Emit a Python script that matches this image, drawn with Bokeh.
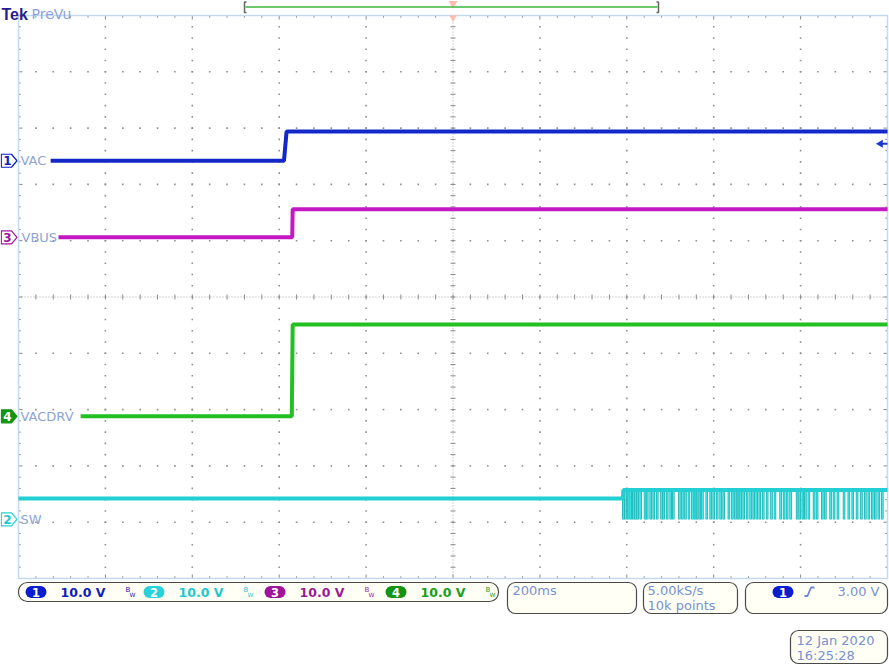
import numpy as np
from bokeh.plotting import figure
from bokeh.models import Range1d, Label, BoxAnnotation
from bokeh.embed import file_html
from bokeh.resources import INLINE

# ---------------- data ----------------
TIME_PER_DIV_MS = 200.0          # 200ms / div
VOLTS_PER_DIV = 10.0             # 10.0 V / div on every channel
H_DIVS, V_DIVS = 10, 10

channel_numbers = [1, 2, 3, 4]
channel_names = ["VAC", "SW", "VBUS", "VACDRV"]
channel_offsets_div = [2.42, -3.95, 1.06, -2.12]
channel_scale_text = ["10.0 V", "10.0 V", "10.0 V", "10.0 V"]

vac_t_ms = [-926, -389, -383, 1000]
vac_v = [0.0, 0.0, 5.2, 5.2]

vbus_t_ms = [-908, -370, -369, 1000]
vbus_v = [0.0, 0.0, 5.0, 5.0]

vacdrv_t_ms = [-857, -371, -369, 1000]
vacdrv_v = [0.0, 0.0, 16.3, 16.3]

sw_t_ms = [-1000, 391, 392, 1000]
sw_v = [3.7, 3.7, 5.2, 5.2]
sw_spike_t_ms = [392, 397, 403, 409, 415, 420, 425, 432, 442, 447, 455, 462, 470, 480,
                 485, 493, 501, 507, 521, 528, 535, 543, 551, 557, 562, 568, 574, 584,
                 593, 600, 608, 616, 623, 635, 643, 650, 656, 662, 669, 677, 685, 692,
                 699, 706, 714, 723, 733, 741, 754, 762, 769, 777, 792, 798, 805, 811,
                 819, 831, 838, 850, 857, 869, 877, 886, 900, 911, 920, 930, 940, 949,
                 957, 965, 972, 980, 988]
sw_spike_high_v = 5.2
sw_spike_low_v = 0.0

trigger_level_v = 3.0
sample_rate_text = "5.00kS/s"
record_text = "10k points"
timebase_text = "200ms"
trigger_text = "3.00 V"
date_text = "12 Jan  2020"
time_text = "16:25:28"

# ---------------- layout (picture pixels) ----------------
W, H = 889, 667
GX0, GX1, GY0, GY1 = 18, 887, 15, 578
MS_PER_PX = H_DIVS * TIME_PER_DIV_MS / (GX1 - GX0)
DIV_PER_PX = V_DIVS / (GY1 - GY0)
T_HALF = H_DIVS / 2 * TIME_PER_DIV_MS
x_start = -T_HALF - GX0 * MS_PER_PX
x_end = x_start + W * MS_PER_PX
y_end = V_DIVS / 2 + GY0 * DIV_PER_PX
y_start = y_end - H * DIV_PER_PX


def X(px):
    return x_start + px * MS_PER_PX


def Y(py):
    return y_end - py * DIV_PER_PX


CH_COL = {1: "#1428c8", 2: "#22cfd2", 3: "#c418c4", 4: "#22c022"}
TXT_COL = {1: "#1020b8", 2: "#1ec8d0", 3: "#9a1a9a", 4: "#18a018"}
PILL_COL = {1: "#0a1ed0", 2: "#28d2d8", 3: "#a0149c", 4: "#149414"}
LBL_COL = "#8ea4d4"
BOX_TXT = "#7891d0"
FONT = "DejaVu Sans"

p = figure(width=W, height=H, x_range=Range1d(x_start, x_end), y_range=Range1d(y_start, y_end),
           x_axis_type=None, y_axis_type=None, toolbar_location=None, output_backend="svg",
           min_border=0, outline_line_color=None, background_fill_color="white",
           border_fill_color="white")

# ---------------- graticule ----------------
dot_x, dot_y = [], []
for k in range(1, H_DIVS):
    if k == H_DIVS // 2:
        continue
    gx = -T_HALF + k * TIME_PER_DIV_MS
    for m in range(1, V_DIVS * 5):
        dot_x.append(gx)
        dot_y.append(-V_DIVS / 2 + m * 0.2)
for j in range(1, V_DIVS):
    if j == V_DIVS // 2:
        continue
    gy = -V_DIVS / 2 + j
    for m in range(1, H_DIVS * 5):
        dot_x.append(-T_HALF + m * TIME_PER_DIV_MS / 5)
        dot_y.append(gy)
p.scatter(dot_x, dot_y, marker="square", size=1.6, fill_color="#909090", line_color=None)

# centre cross
p.line([-T_HALF, T_HALF], [0, 0], line_color="#a8a8a8", line_width=1, line_dash="1 2")
p.line([0, 0], [-V_DIVS / 2, V_DIVS / 2], line_color="#a8a8a8", line_width=1, line_dash="1 2")
tx = [-T_HALF + m * TIME_PER_DIV_MS / 5 for m in range(1, H_DIVS * 5)]
ty = [-V_DIVS / 2 + m * 0.2 for m in range(1, V_DIVS * 5)]
hx = 2.5 * MS_PER_PX
hy = 2.5 * DIV_PER_PX
p.segment(x0=tx, y0=[-hy] * len(tx), x1=tx, y1=[hy] * len(tx), line_color="#8a8a8a", line_width=1)
p.segment(x0=[-hx] * len(ty), y0=ty, x1=[hx] * len(ty), y1=ty, line_color="#8a8a8a", line_width=1)


def tick_len(i):
    return 4.0 if i % 5 == 0 else 2.2


bt_x0, bt_y0, bt_x1, bt_y1 = [], [], [], []
for i, x in enumerate(tx, start=1):
    L = tick_len(i) * DIV_PER_PX
    bt_x0 += [x, x]; bt_x1 += [x, x]
    bt_y0 += [V_DIVS / 2, -V_DIVS / 2]; bt_y1 += [V_DIVS / 2 - L, -V_DIVS / 2 + L]
for i, y in enumerate(ty, start=1):
    L = tick_len(i) * MS_PER_PX
    bt_y0 += [y, y]; bt_y1 += [y, y]
    bt_x0 += [-T_HALF, T_HALF]; bt_x1 += [-T_HALF + L, T_HALF - L]
p.segment(x0=bt_x0, y0=bt_y0, x1=bt_x1, y1=bt_y1, line_color="#8a8a8a", line_width=1)

p.line([-T_HALF, T_HALF, T_HALF, -T_HALF, -T_HALF],
       [V_DIVS / 2, V_DIVS / 2, -V_DIVS / 2, -V_DIVS / 2, V_DIVS / 2],
       line_color="#c4daf0", line_width=1.5)

# ---------------- traces ----------------
def to_div(ch, volts):
    off = channel_offsets_div[channel_numbers.index(ch)]
    return [off + v / VOLTS_PER_DIV for v in volts]


n_sp = len(sw_spike_t_ms)
p.segment(x0=sw_spike_t_ms, y0=to_div(2, [sw_spike_high_v] * n_sp),
          x1=sw_spike_t_ms, y1=to_div(2, [sw_spike_low_v] * n_sp),
          line_color="#18aeb0", line_width=2.6)
p.segment(x0=sw_spike_t_ms, y0=to_div(2, [sw_spike_high_v] * n_sp),
          x1=sw_spike_t_ms, y1=to_div(2, [sw_spike_low_v] * n_sp),
          line_color="#40e8e8", line_width=1.2)
p.line(sw_t_ms, to_div(2, sw_v), line_color=CH_COL[2], line_width=4)
p.line(vacdrv_t_ms, to_div(4, vacdrv_v), line_color=CH_COL[4], line_width=4)
p.line(vbus_t_ms, to_div(3, vbus_v), line_color=CH_COL[3], line_width=4)
p.line(vac_t_ms, to_div(1, vac_v), line_color=CH_COL[1], line_width=4)

# trigger level arrow (right edge)
trig_div = to_div(1, [trigger_level_v])[0]
p.segment(x0=[X(880)], y0=[trig_div], x1=[X(887)], y1=[trig_div], line_color="#1a3ad0", line_width=2)
p.scatter([X(880)], [trig_div], marker="triangle", angle=np.pi / 2, size=8,
          fill_color="#1a3ad0", line_color=None)

# trigger position markers
p.scatter([0], [Y(3)], marker="inverted_triangle", size=9, fill_color="#ffbcae", line_color=None)
p.scatter([0], [Y(17)], marker="inverted_triangle", size=8, fill_color="#ffbcae", line_color=None)

# record ruler at the top
p.line([X(245), X(657)], [Y(6.5), Y(6.5)], line_color="#3cb43c", line_width=1.5)
p.line([X(246), X(244), X(244), X(246)], [Y(1.5), Y(1.5), Y(12), Y(12)], line_color="#666666", line_width=1.5)
p.line([X(656), X(658), X(658), X(656)], [Y(1.5), Y(1.5), Y(12), Y(12)], line_color="#666666", line_width=1.5)

# ---------------- channel tags and names ----------------
name_x = {1: 20, 2: 20, 3: 21, 4: 20}
for ch, name, off in zip(channel_numbers, channel_names, channel_offsets_div):
    hh = 6.5 * DIV_PER_PX
    xs = [X(0.8), X(11), X(16.5), X(11), X(0.8)]
    ys = [off + hh, off + hh, off, off - hh, off - hh]
    filled = ch == 4
    p.patch(xs, ys, fill_color=PILL_COL[ch] if filled else "white",
            line_color=PILL_COL[ch], line_width=1.2)
    p.add_layout(Label(x=X(7), y=off, text=str(ch), text_color="white" if filled else TXT_COL[ch],
                       text_font_size="12px", text_font_style="bold", text_align="center",
                       text_baseline="middle", text_font=FONT))
    p.add_layout(Label(x=X(name_x[ch]), y=off, text=name, text_color=LBL_COL,
                       text_font_size="13px", text_align="left", text_baseline="middle",
                       text_font=FONT))

# ---------------- header ----------------
p.add_layout(Label(x=X(1), y=Y(13.5), text="Tek", text_color="#2a1c8c", text_font_size="16px",
                   text_font_style="bold", text_baseline="alphabetic", text_font="Liberation Sans"))
p.add_layout(Label(x=X(31), y=Y(13.5), text="PreVu", text_color="#8ca2dc", text_font_size="14px",
                   text_baseline="alphabetic", text_font=FONT))

# ---------------- status area ----------------
def box(x0, y0, x1, y1, fill, line, radius, lw=1.2):
    p.add_layout(BoxAnnotation(left=X(x0), right=X(x1), top=Y(y0), bottom=Y(y1),
                               fill_color=fill, fill_alpha=1.0, line_color=line,
                               line_alpha=1.0 if line else 0.0, line_width=lw,
                               border_radius=radius))


def label(px, py, text, color, size, bold=False, align="left"):
    p.add_layout(Label(x=X(px), y=Y(py), text=text, text_color=color,
                       text_font_size=f"{size}px", text_font_style="bold" if bold else "normal",
                       text_align=align, text_baseline="middle", text_font=FONT))


box(18, 582, 498, 601, "#fffff6", "#4a4a4a", 9)
pill_x = {1: 25, 2: 143, 3: 264, 4: 385}
for ch, sc in zip(channel_numbers, channel_scale_text):
    x0 = pill_x[ch]
    box(x0, 585.5, x0 + 21, 597.5, PILL_COL[ch], None, 6, lw=0)
    label(x0 + 10.5, 591.5, str(ch), "white", 11.5, bold=True, align="center")
    label(x0 + 35, 591.5, sc, TXT_COL[ch], 12.5, bold=True)
    label(x0 + 100, 589, "B", TXT_COL[ch], 7)
    label(x0 + 104, 593.5, "W", TXT_COL[ch], 6)

box(507, 582, 636, 613, "#fffff6", "#4a4a4a", 8)
label(512, 590, timebase_text, BOX_TXT, 13)

box(643, 582, 737, 613, "#fffff6", "#4a4a4a", 8)
label(647, 590, sample_rate_text, BOX_TXT, 13)
label(647, 605, record_text, BOX_TXT, 13)

box(745, 582, 887, 613, "#fffff6", "#4a4a4a", 8)
box(772, 585.5, 793, 597.5, PILL_COL[1], None, 6, lw=0)
label(782.5, 591.5, "1", "white", 11.5, bold=True, align="center")
p.line([X(804), X(807), X(810.5), X(814)], [Y(595.5), Y(595.5), Y(587), Y(587)],
       line_color="#6a8ad0", line_width=1.8, level="overlay")
label(879, 591, trigger_text, BOX_TXT, 13, align="right")

box(790, 630, 887, 663, "#fffff6", "#4a4a4a", 8)
label(796, 639.5, date_text, BOX_TXT, 13)
label(796, 655, time_text, BOX_TXT, 13)

open("out.html", "w").write(file_html(p, INLINE))
